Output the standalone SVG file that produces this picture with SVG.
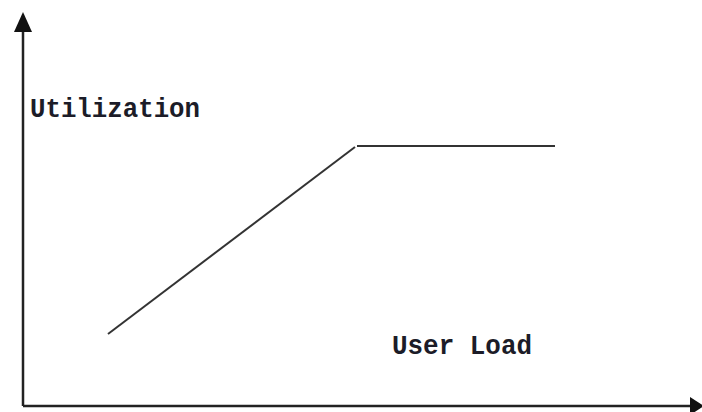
<svg xmlns="http://www.w3.org/2000/svg" width="702" height="412" viewBox="0 0 702 412">
  <style>
    .axis { stroke: #222; stroke-width: 2.5; fill: none; }
    .curve { stroke: #333; stroke-width: 2; fill: none; }
    .label { font-family: "Liberation Mono", "DejaVu Sans Mono", monospace; font-size: 27px; font-weight: bold; fill: #1c1c28; }
  </style>
  <rect width="702" height="412" fill="#ffffff"/>
  <!-- axes with solid triangular heads -->
  <g id="axes">
    <path class="axis" d="M23,406 L23,30"/>
    <path d="M23,12 L14,32 L32,32 Z" fill="#111"/>
    <path class="axis" d="M23,406 L690,406"/>
    <path d="M704,406 L690,397 L690,415 Z" fill="#111"/>
  </g>
  <!-- utilization curve: linear rise then plateau -->
  <g id="curve">
    <path class="curve" d="M108,334 L355,147"/>
    <path class="curve" d="M357,146 L555,146"/>
  </g>
  <g id="labels">
    <text class="label" x="30" y="117" textLength="170" lengthAdjust="spacingAndGlyphs">Utilization</text>
    <text class="label" x="392" y="354" textLength="140" lengthAdjust="spacingAndGlyphs">User Load</text>
  </g>
</svg>
